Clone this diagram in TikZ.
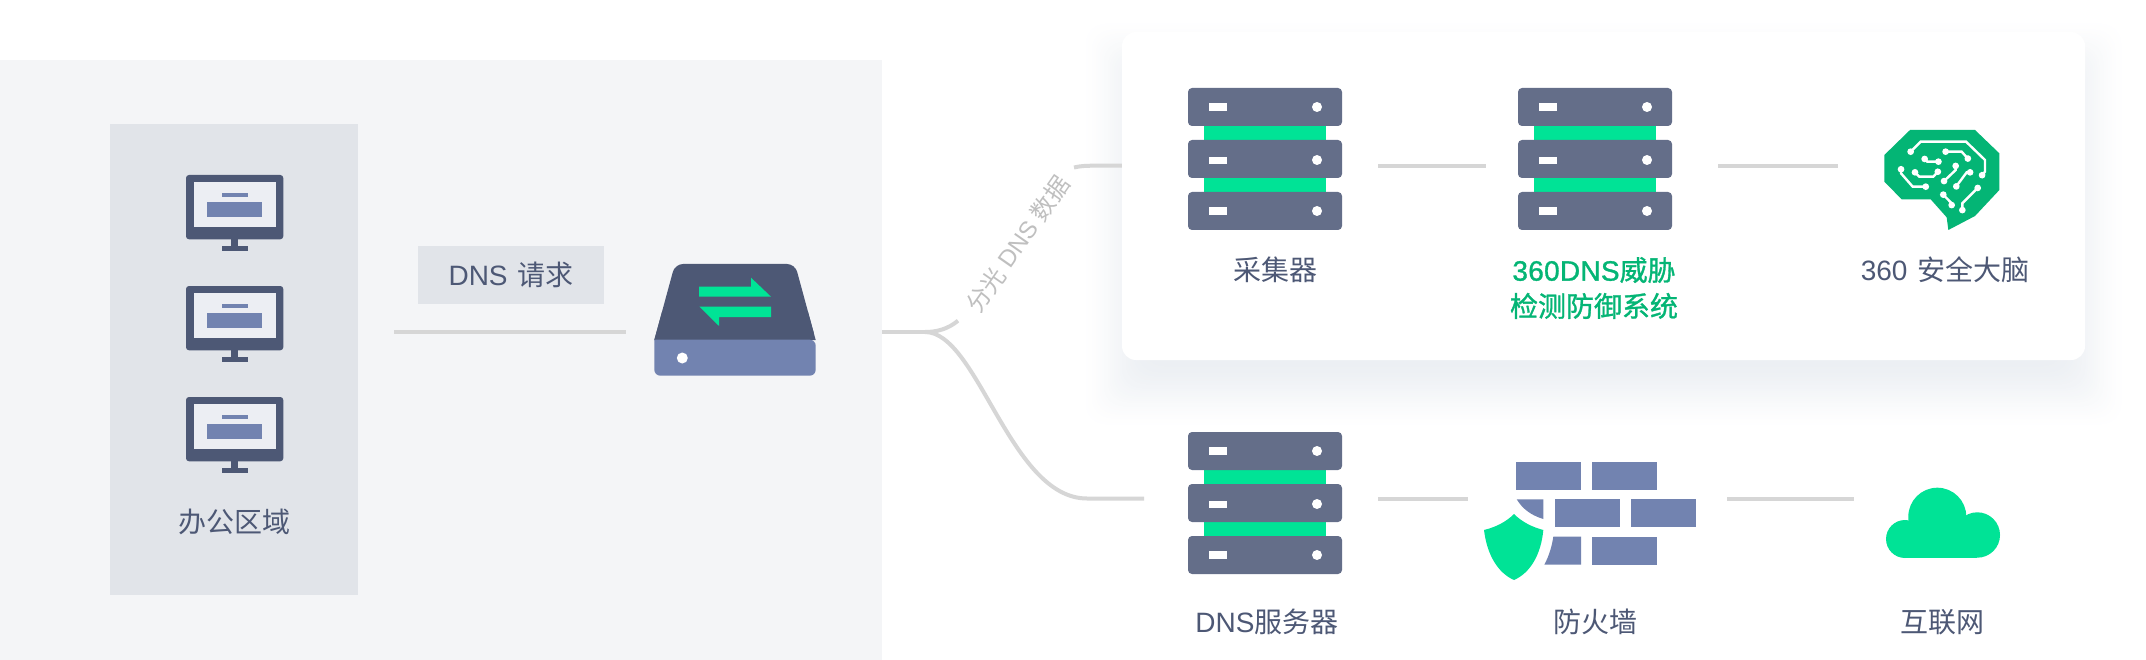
\documentclass[tikz,border=0pt]{standalone}
\usepackage{fontspec}
\usetikzlibrary{arrows.meta}
\setmainfont{Liberation Sans}
\newfontfamily\cjk{Noto Sans CJK SC}
\newfontfamily\cjkm[FakeBold=1.1]{Noto Sans CJK SC}
\newfontfamily\latm[FakeBold=1.1,LetterSpace=1]{Liberation Sans}
\definecolor{panelbg}{HTML}{F4F5F7}
\definecolor{colbg}{HTML}{E1E4E9}
\definecolor{scr}{HTML}{ECEEF3}
\definecolor{navy}{HTML}{4D5875}
\definecolor{slate}{HTML}{646E89}
\definecolor{blu}{HTML}{7283B0}
\definecolor{grn}{HTML}{00E396}
\definecolor{dgrn}{HTML}{04B575}
\definecolor{wire}{HTML}{D6D6D6}
\definecolor{sh}{HTML}{ECEFF3}
\tikzset{
  wireline/.style={draw=wire,line width=4pt},
  lbl/.style={text=navy,font=\fontsize{28}{33}\selectfont,inner sep=0pt},
  grnlbl/.style={text=dgrn,font=\fontsize{28}{36}\selectfont,inner sep=0pt,align=center},
  trc/.style={draw=white,line width=2.4pt,{Circle[length=6.5pt]}-{Circle[length=6.5pt]}},
}
\newcommand{\monitorIcon}[2]{%
\begin{scope}[shift={(#1,#2)}]
 \fill[navy,rounded corners=3pt] (186,175) rectangle (283.3,239.3);
 \fill[scr] (194,181.7) rectangle (275.7,227.3);
 \fill[blu] (221.7,192.7) rectangle (247.7,197.3);
 \fill[blu] (207,202.3) rectangle (262.3,217.3);
 \fill[navy] (231.3,239) rectangle (238,246.5);
 \fill[navy] (221.7,246.3) rectangle (247.7,251.3);
\end{scope}}
\newcommand{\serverIcon}[2]{%
\begin{scope}[shift={(#1,#2)}]
 \fill[grn] (1204.3,125) rectangle (1326.3,141);
 \fill[grn] (1204.3,177) rectangle (1326.3,193);
 \foreach \yy/\rr/\cc in {88/103.3/107,140/156.7/160,192/207.3/211}{
  \fill[slate,rounded corners=4pt] (1188,\yy) rectangle (1342,\yy+38);
  \fill[white] (1209.3,\rr) rectangle (1227,\rr+7.4);
  \fill[white] (1317,\cc) circle (5);
 }
\end{scope}}
\begin{document}
\begin{tikzpicture}[x=1pt,y=-1pt]
\useasboundingbox (0,0) rectangle (2146,660);
\fill[white] (0,0) rectangle (2146,660);
% left panel
\fill[panelbg] (0,60) rectangle (881.5,660);
\fill[colbg] (110,124) rectangle (358,595);
\monitorIcon{0}{0}
\monitorIcon{0}{111}
\monitorIcon{0}{222}
\node[lbl] (office) at (234,522) {\cjk 办公区域};
% DNS request
\node[fill=colbg,minimum width=186pt,minimum height=58pt,inner sep=0pt] (reqbox) at (511,275) {};
\node[lbl] (reqlabel) at (511,275) {DNS\hspace{2pt} {\cjk 请求}};
\coordinate (reqA) at (394,332);
\coordinate (reqB) at (626,332);
\draw[wireline] (reqA) -- (reqB);
% switch
\fill[navy,rounded corners=8pt] (654.3,340) -- (675,264) -- (795,264) -- (815.7,340) [sharp corners] -- cycle;
\fill[navy] (654.3,340) -- (662,312) -- (808,312) -- (815.7,340) -- cycle;
\fill[blu,rounded corners=6pt] (654.3,339.7) -- (654.3,375.7) -- (815.7,375.7) -- (815.7,339.7) [sharp corners] -- cycle;
\fill[white] (682.3,358) circle (5.5);
\fill[grn] (699,286.7) -- (751,286.7) -- (751,277.7) -- (771,296.7) -- (699,296.7) -- cycle;
\fill[grn] (771,306.5) -- (771,317) -- (719,317) -- (719,326) -- (699.3,306.5) -- cycle;
% card shadow
\foreach \e in {44,42,...,-28}{
  \pgfmathsetmacro{\tt}{(44-\e)/72}
  \pgfmathsetmacro{\pp}{100*\tt*\tt*(3-2*\tt)}
  \fill[rounded corners=20pt,fill=sh!\pp!white] (1122-\e,60-\e) rectangle (2085+\e,388+\e);
}
% branches
\coordinate (tap) at (882,332);
\coordinate (fork) at (925,332);
\coordinate (upA) at (958,320.7);
\coordinate (upB) at (1074,167.5);
\coordinate (upC) at (1124,165.7);
\coordinate (lowC) at (1144,498.5);
\draw[wireline] (tap) -- (fork);
\draw[wireline] (fork) .. controls (937,332) and (948,329) .. (upA);
\draw[wireline] (fork) .. controls (978,332) and (1010,498.5) .. (1087,498.5) -- (lowC);
\draw[wireline] (upB) .. controls (1080,166) and (1086,165.7) .. (1095,165.7) -- (upC);
\node[text=black!25,font=\fontsize{24}{28}\selectfont,inner sep=0pt,rotate=55] (tapped) at (1018,244) {{\cjk 分光} DNS {\cjk 数据}};
% card
\fill[white,rounded corners=14pt] (1122,32) rectangle (2085,360);
\serverIcon{0}{0}
\serverIcon{330}{0}
\serverIcon{0}{344}
\coordinate (a1) at (1378,165.7);
\coordinate (a2) at (1486,165.7);
\coordinate (b1) at (1718,165.7);
\coordinate (b2) at (1838,165.7);
\draw[wireline] (a1) -- (a2);
\draw[wireline] (b1) -- (b2);
\node[lbl] (collector) at (1275,270) {\cjk 采集器};
\node[grnlbl] (detect) at (1594,288) {{\latm 360DNS}{\cjkm 威胁}\\{\cjkm 检测防御系统}};
\node[lbl] (brainlabel) at (1945,270) {360\hspace{2pt} {\cjk 安全大脑}};
% brain
\begin{scope}[shift={(1840,110)},x=.33333pt,y=-.33333pt]
 \fill[dgrn] (210,60) -- (405,60) -- (478,130) -- (478,240) -- (405,318) -- (325,360) -- (320,322) -- (272,268) -- (185,268) -- (133,215) -- (133,135) -- cycle;
 \draw[trc] (205,132) -- (242,95) -- (378,95) -- (435,150) -- (435,185) -- (420,203);
 \draw[trc] (307,125) -- (365,125) -- (390,153);
 \draw[trc] (247,140) -- (262,155) -- (305,155);
 \draw[trc] (183,168) -- (183,190) -- (218,230) -- (267,230);
 \draw[trc] (218,180) -- (238,200) -- (280,200) -- (300,178);
 \draw[trc] (347,158) -- (347,180) -- (305,220);
 \draw[trc] (400,187) -- (380,187) -- (343,237);
 \draw[trc] (303,247) -- (335,280) -- (335,295);
 \draw[trc] (420,227) -- (367,280) -- (367,310);
\end{scope}
% bottom row
\coordinate (c1) at (1378,499);
\coordinate (c2) at (1468,499);
\coordinate (d1) at (1727,499);
\coordinate (d2) at (1854,499);
\draw[wireline] (c1) -- (c2);
\draw[wireline] (d1) -- (d2);
% firewall
\fill[blu] (1516,462) rectangle (1581,490);
\fill[blu] (1592,462) rectangle (1657.3,490);
\fill[blu] (1554.7,499.3) rectangle (1620,527.3);
\fill[blu] (1631,499.3) rectangle (1696,527.3);
\fill[blu] (1592,536.7) rectangle (1657.3,564.7);
\fill[blu] (1516.7,499.3) -- (1543.3,499.3) -- (1543.3,519) .. controls (1530,515) and (1522,508) .. cycle;
\fill[blu] (1553.3,536.7) -- (1581,536.7) -- (1581,564.7) -- (1544.3,564.7) .. controls (1549,556) and (1552,546) .. cycle;
\fill[grn] (1514,514) .. controls (1522,522) and (1532,527) .. (1543.3,530) .. controls (1541,555) and (1530,573) .. (1514,580) .. controls (1498,573) and (1487,555) .. (1484,530) .. controls (1496,527) and (1506,522) .. cycle;
% cloud
\fill[grn] (1905,539) circle (19);
\fill[grn] (1937.3,516.7) circle (29);
\fill[grn] (1977.3,535) circle (22.7);
\fill[grn] (1905,530) rectangle (1977.3,557.7);
% bottom labels
\node[lbl] (dnssrv) at (1267,622) {DNS{\cjk 服务器}};
\node[lbl] (fw) at (1595,622) {\cjk 防火墙};
\node[lbl] (net) at (1942,622) {\cjk 互联网};
\end{tikzpicture}
\end{document}
